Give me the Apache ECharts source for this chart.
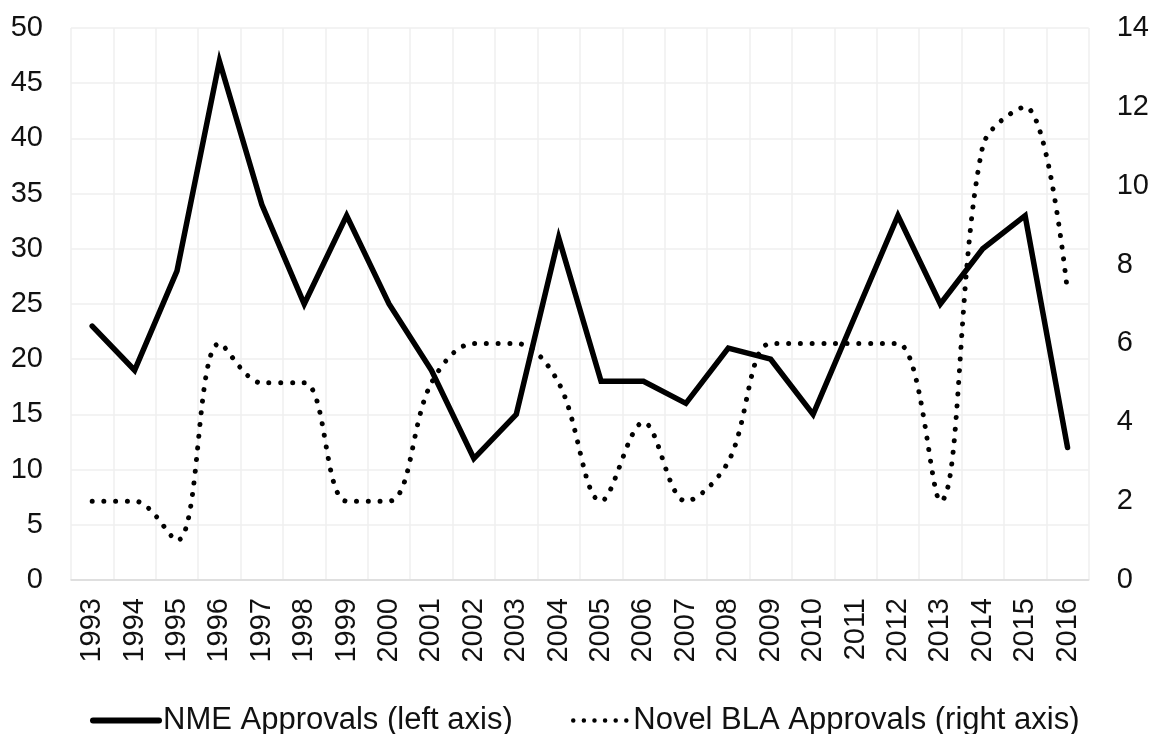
<!DOCTYPE html>
<html>
<head>
<meta charset="utf-8">
<script src="https://cdn.jsdelivr.net/npm/echarts@6/dist/echarts.min.js"></script>
<style>
  html, body { margin: 0; padding: 0; background: #fff; }
  #chart { width: 1152px; height: 734px; }
</style>
</head>
<body>
<div id="chart"></div>
<script>
// years on the x axis
var years = ['1993', '1994', '1995', '1996', '1997', '1998', '1999', '2000', '2001', '2002', '2003', '2004',
  '2005', '2006', '2007', '2008', '2009', '2010', '2011', '2012', '2013', '2014', '2015', '2016'];
// NME approvals, left axis
var nmeApprovals = [23, 19, 28, 47, 34, 25, 33, 25, 19, 11, 15, 31, 18, 18, 16, 21, 20, 15, 24, 33, 25, 30, 33, 12];
// novel BLA approvals, right axis
var blaApprovals = [2, 2, 1, 6, 5, 5, 2, 2, 5, 6, 6, 5, 2, 4, 2, 3, 6, 6, 6, 6, 2, 11, 12, 7.3];

var nmeName = 'NME Approvals (left axis)';
var blaName = 'Novel BLA Approvals (right axis)';

var font = 'Liberation Sans, Arial, sans-serif';
var chart = echarts.init(document.getElementById('chart'));

var option = {
  backgroundColor: '#fff',
  animation: false,
  textStyle: { fontFamily: font },
  grid: { left: 71, right: 63, top: 28, bottom: 154, containLabel: false },
  legend: [{
    data: [nmeName],
    left: 85,
    top: 700,
    itemWidth: 66,
    itemHeight: 14,
    itemStyle: { opacity: 0 },
    lineStyle: { width: 6, cap: 'round' },
    textStyle: { fontSize: 31, color: '#111', fontFamily: font, padding: [0, 0, 0, -1] }
  }, {
    data: [blaName],
    left: 566,
    top: 700,
    itemWidth: 56,
    itemHeight: 14,
    itemStyle: { opacity: 0 },
    lineStyle: { width: 4.5, type: [0.01, 10.6], cap: 'round' },
    textStyle: { fontSize: 31, color: '#111', fontFamily: font, padding: [0, 0, 0, -1] }
  }],
  xAxis: {
    type: 'category',
    data: years,
    boundaryGap: true,
    axisLine: { show: true, lineStyle: { color: '#d9d9d9', width: 1.5 } },
    axisTick: { show: false },
    axisLabel: { rotate: 90, fontSize: 29, color: '#111', margin: 18, interval: 0 },
    splitLine: { show: true, interval: 0, lineStyle: { color: '#efefef', width: 1.5 } }
  },
  yAxis: [{
    type: 'value',
    min: 0,
    max: 50,
    interval: 5,
    axisLine: { show: false },
    axisTick: { show: false },
    axisLabel: { fontSize: 29, color: '#111', margin: 28 },
    splitLine: { show: true, lineStyle: { color: '#efefef', width: 1.5 } }
  }, {
    type: 'value',
    min: 0,
    max: 14,
    interval: 2,
    position: 'right',
    axisLine: { show: false },
    axisTick: { show: false },
    axisLabel: { fontSize: 29, color: '#111', margin: 28 },
    splitLine: { show: false }
  }],
  series: [{
    name: nmeName,
    type: 'line',
    yAxisIndex: 0,
    data: nmeApprovals,
    symbol: 'none',
    color: '#000',
    lineStyle: { color: '#000', width: 5.5, join: 'miter', cap: 'round' },
    z: 3
  }, {
    name: blaName,
    type: 'line',
    yAxisIndex: 1,
    data: blaApprovals,
    symbol: 'none',
    smooth: 0.35,
    color: '#000',
    lineStyle: { color: '#000', width: 5, type: [0.01, 11.7], cap: 'round' },
    z: 2
  }]
};

chart.setOption(option);
</script>
</body>
</html>
